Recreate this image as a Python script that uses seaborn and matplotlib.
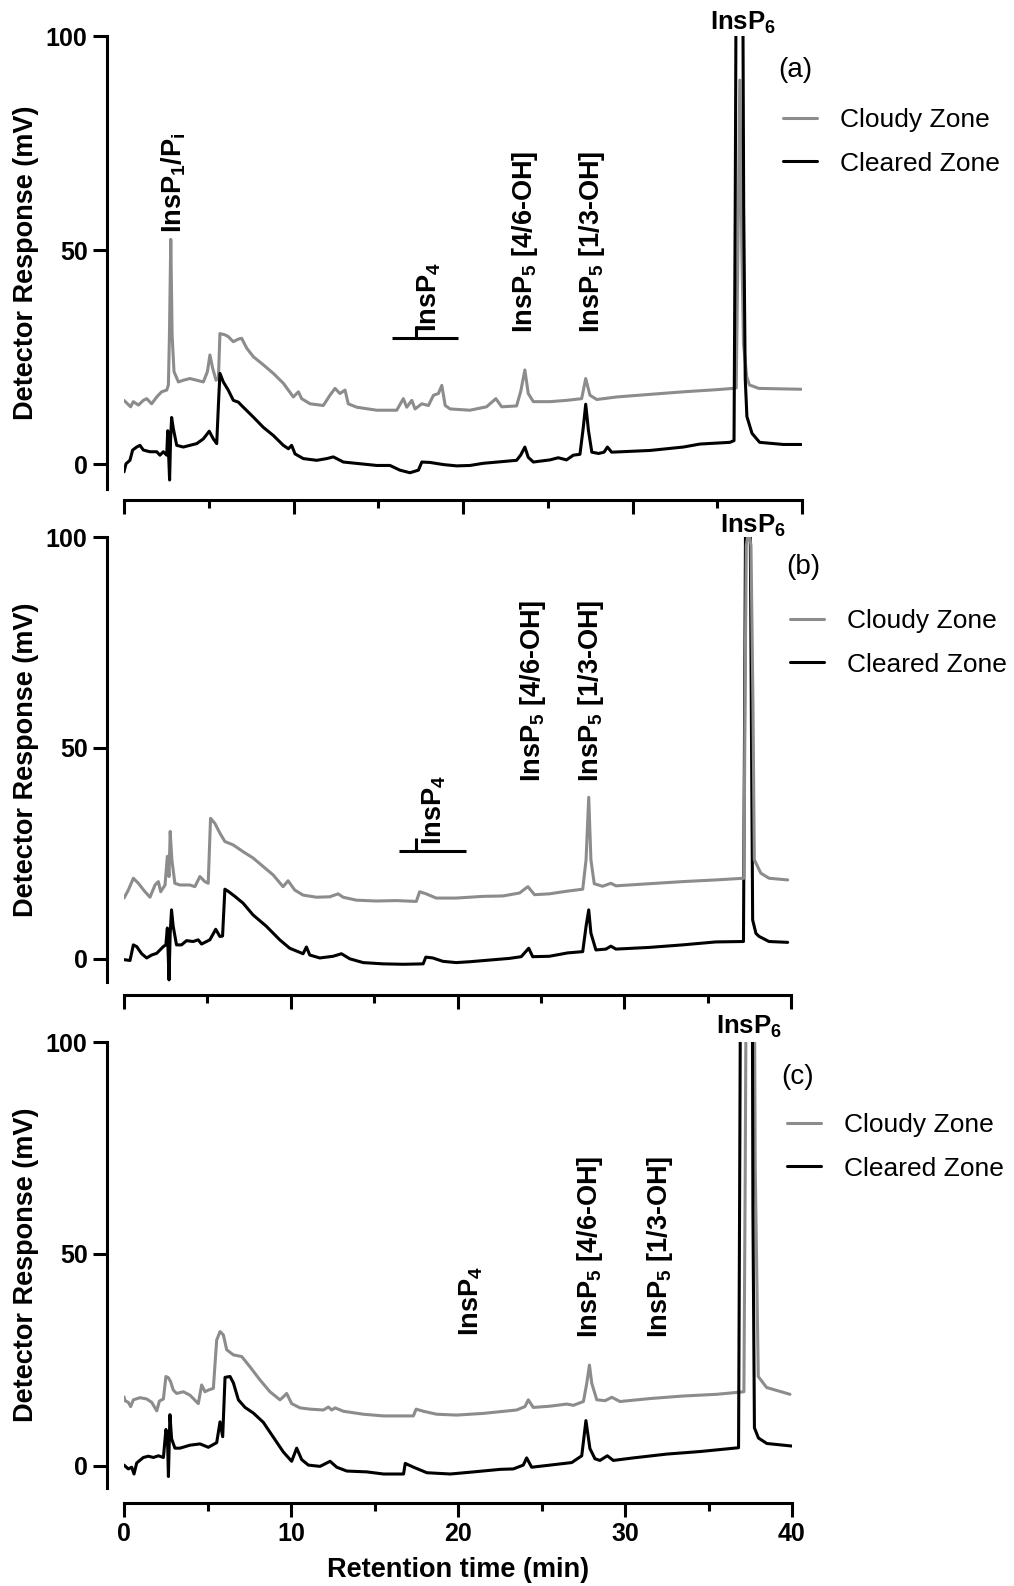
import numpy as np
import pandas as pd
import matplotlib
matplotlib.use("Agg")
import matplotlib.pyplot as plt
import seaborn as sns
from matplotlib.ticker import MultipleLocator, FixedLocator, NullLocator

# ---------------------------------------------------------------- data
ZONES = ["Cloudy Zone", "Cleared Zone"]

# (a) retention time (min) and detector response (mV)
a_cloudy_t = [0, 0.39, 0.55, 0.85, 1.14, 1.34, 1.63, 1.93, 2.22, 2.52, 2.62, 2.68, 2.76, 2.84, 2.95,
              3.21, 3.5, 3.89, 4.29, 4.68, 4.92, 5.07, 5.23, 5.43, 5.57, 5.66, 5.96, 6.15, 6.45,
              6.74, 6.94, 7.24, 7.63, 8.22, 8.81, 9.40, 9.99, 10.29, 10.48, 10.98, 11.76, 12.15,
              12.45, 12.74, 13.04, 13.23, 13.73, 14.91, 16.09, 16.48, 16.68, 16.98, 17.17, 17.57,
              17.96, 18.26, 18.55, 18.75, 18.95, 19.24, 20.41, 21.39, 21.94, 22.28, 23.16, 23.40,
              23.65, 23.85, 24.15, 25.13, 26.11, 27.0, 27.24, 27.49, 27.89, 29.07, 31.03, 33.0,
              34.97, 35.95, 36.12, 36.22, 36.33, 36.45, 36.55, 36.74, 36.9, 37.45, 38.6, 39.95]
a_cloudy = [14.9, 13.4, 14.6, 13.8, 14.9, 15.3, 14.1, 15.7, 16.9, 17.3, 18.5, 30.0, 52.5, 30.0, 21.6,
            19.2, 19.6, 20.0, 19.6, 19.2, 21.6, 25.5, 22.4, 19.6, 20.0, 30.5, 30.2, 29.8, 28.6,
            29.2, 29.4, 27.1, 25.1, 23.2, 21.2, 18.9, 15.7, 16.9, 15.3, 14.1, 13.7, 16.1,
            17.7, 16.5, 17.3, 14.1, 13.3, 12.6, 12.6, 15.3, 13.3, 14.9, 12.9, 14.1,
            13.7, 16.1, 16.5, 18.4, 13.7, 12.9, 12.6, 13.4, 15.3, 13.4, 13.6, 16.9,
            22.0, 16.5, 14.6, 14.6, 14.9, 15.3, 20.0, 16.1, 15.1, 15.7, 16.3, 16.9,
            17.4, 17.7, 17.8, 50.0, 89.7, 50.0, 28.0, 20.4, 18.5, 17.7, 17.6, 17.5]
a_cleared_t = [0, 0.12, 0.35, 0.51, 0.75, 0.94, 1.14, 1.53, 1.93, 2.12, 2.32, 2.52, 2.58, 2.69,
               2.75, 2.81, 2.91, 3.11, 3.5, 3.89, 4.29, 4.68, 5.03, 5.27, 5.47, 5.57, 5.66, 5.86,
               6.15, 6.45, 6.74, 7.04, 7.63, 8.22, 8.81, 9.40, 9.70, 9.89, 10.09, 10.58, 11.37,
               11.96, 12.35, 12.94, 13.92, 14.91, 15.69, 16.28, 16.87, 17.37, 17.57, 18.06, 18.85,
               19.63, 20.42, 21.19, 23.16, 23.4, 23.65, 23.85, 24.15, 25.13, 25.62, 26.11, 26.51,
               26.9, 27.1, 27.24, 27.4, 27.6, 28.0, 28.32, 28.52, 28.77, 31.03, 33.0, 33.98,
               35.75, 35.99, 36.06, 36.12, 36.3, 36.5, 36.56, 36.65, 36.75, 37.05, 37.5, 38.9, 39.95]
a_cleared = [-1.8, 0.1, 0.9, 3.3, 4.0, 4.4, 3.3, 2.9, 2.9, 2.1, 2.9, 2.1, 7.8, -3.7,
             6.0, 10.9, 8.3, 4.4, 4.0, 4.4, 4.8, 5.9, 7.7, 5.9, 4.8, 13.8, 21.2, 19.2,
             17.3, 14.9, 14.5, 13.3, 11.0, 8.6, 6.7, 4.4, 3.6, 4.4, 2.4, 1.3, 0.9,
             1.3, 1.7, 0.5, 0.1, -0.3, -0.3, -1.4, -2.0, -1.4, 0.5, 0.4, -0.1,
             -0.4, -0.3, 0.2, 0.9, 2.1, 4.0, 1.6, 0.5, 1.0, 1.5, 1.0, 2.1,
             2.3, 8.7, 14.0, 7.9, 2.8, 2.5, 2.8, 4.0, 2.8, 3.2, 4.0, 4.7,
             5.1, 5.5, 60.0, 120.0, 150.0, 120.0, 60.0, 20.0, 11.1, 7.2, 5.1, 4.6, 4.6]

# (b)
b_cloudy_t = [0, 0.26, 0.56, 0.86, 1.26, 1.56, 1.86, 2.06, 2.2, 2.46, 2.6, 2.7, 2.77, 2.87, 3.05,
              3.35, 3.95, 4.25, 4.55, 4.85, 5.05, 5.19, 5.45, 5.75, 6.05, 6.55, 7.14, 7.74, 8.34,
              8.94, 9.54, 9.84, 10.24, 10.74, 11.54, 12.34, 12.84, 13.14, 13.94, 15.13, 16.33,
              17.53, 17.73, 18.12, 18.72, 19.92, 20.72, 21.52, 22.72, 23.72, 24.22, 24.62, 25.51,
              26.51, 27.51, 27.71, 27.87, 28.0, 28.2, 28.7, 29.2, 29.5, 31.5, 33.5, 35.49, 37.18,
              37.24, 37.32, 37.45, 37.6, 37.72, 37.8, 38.19, 38.68, 39.8]
b_cloudy = [14.4, 16.3, 19.1, 17.9, 15.9, 14.6, 17.5, 18.3, 15.9, 17.5, 24.3, 19.5, 30.2, 23.5, 17.9,
            17.5, 17.5, 17.1, 19.5, 18.3, 17.9, 33.3, 32.1, 29.8, 27.8, 27.0, 25.4, 23.9, 21.9,
            19.9, 17.1, 18.5, 16.3, 15.1, 14.6, 14.7, 15.4, 14.6, 13.9, 13.7, 13.8,
            13.6, 15.9, 15.4, 14.4, 14.4, 14.6, 14.8, 14.9, 15.6, 17.1, 15.2, 15.4,
            16.0, 16.5, 23.5, 38.3, 23.5, 17.8, 17.2, 17.9, 17.3, 17.8, 18.3, 18.7, 19.1,
            60.0, 98.0, 101.5, 98.0, 60.0, 23.5, 20.3, 19.1, 18.7]
b_cleared_t = [0, 0.36, 0.56, 0.76, 1.06, 1.36, 1.66, 1.96, 2.16, 2.36, 2.51, 2.6, 2.7, 2.77, 2.85,
               2.95, 3.15, 3.45, 3.75, 4.15, 4.45, 4.65, 5.15, 5.5, 5.75, 5.91, 6.05, 6.25, 6.65,
               7.14, 7.74, 8.54, 9.34, 9.94, 10.74, 10.94, 11.14, 11.74, 12.54, 13.04, 13.54,
               14.34, 15.54, 16.74, 17.94, 18.1, 18.52, 19.12, 19.92, 20.72, 21.92, 23.12, 23.82,
               24.27, 24.51, 25.51, 26.61, 27.51, 27.71, 27.87, 28.0, 28.3, 28.9, 29.2, 29.5,
               31.5, 33.5, 35.49, 37.15, 37.22, 37.3, 37.5, 37.62, 37.7, 37.9, 38.09, 38.68, 39.8]
b_cleared = [-0.2, -0.4, 3.3, 2.9, 1.2, 0.2, 0.9, 1.3, 2.1, 2.9, 3.3, 7.3, -5.0, 6.0, 11.6,
             7.7, 3.3, 3.3, 4.3, 4.1, 4.5, 3.5, 4.5, 7.0, 5.3, 5.4, 16.5, 16.0, 14.8,
             13.2, 10.4, 7.7, 4.5, 2.5, 1.2, 2.8, 0.9, 0.2, 0.6, 1.2, 0.0,
             -0.9, -1.2, -1.3, -1.2, 0.4, 0.2, -0.6, -0.9, -0.7, -0.3, 0.1, 0.5,
             2.5, 0.5, 0.6, 1.4, 1.7, 7.7, 11.6, 6.1, 2.1, 2.3, 3.0, 2.3,
             2.7, 3.3, 4.0, 4.1, 60.0, 125.0, 140.0, 60.0, 9.2, 6.0, 5.3, 4.1, 3.9]

# (c)
c_cloudy_t = [0, 0.06, 0.26, 0.4, 0.56, 0.96, 1.36, 1.66, 1.96, 2.12, 2.36, 2.51, 2.66, 2.79, 2.95,
              3.15, 3.55, 3.95, 4.25, 4.45, 4.65, 4.85, 5.05, 5.35, 5.55, 5.75, 5.95, 6.15, 6.55,
              7.05, 7.54, 8.14, 8.74, 9.34, 9.54, 9.74, 10.04, 10.54, 11.14, 11.94, 12.24, 12.44,
              12.64, 13.14, 14.33, 15.53, 16.53, 17.33, 17.49, 17.93, 18.72, 19.92, 21.52, 23.51,
              24.01, 24.21, 24.51, 25.51, 26.51, 26.91, 27.51, 27.71, 27.87, 28.01, 28.31, 28.81,
              29.21, 29.7, 31.5, 33.49, 35.49, 37.12, 37.2, 37.26, 37.5, 37.74, 37.8, 37.98,
              38.48, 39.88]
c_cloudy = [16.3, 15.4, 15.0, 14.0, 15.6, 16.1, 15.8, 15.0, 13.0, 15.3, 15.8, 21.1, 20.8, 19.9, 17.9,
            17.1, 17.5, 16.7, 15.5, 14.7, 19.1, 17.5, 17.9, 18.3, 29.7, 31.7, 30.9, 27.4, 26.2,
            25.8, 23.4, 20.3, 17.5, 15.6, 16.3, 17.1, 14.7, 13.7, 13.4, 13.2, 13.9, 13.2,
            13.7, 12.9, 12.2, 11.8, 11.8, 11.8, 13.4, 12.9, 12.2, 12.0, 12.4, 13.2,
            14.0, 15.6, 13.8, 14.1, 14.6, 14.3, 15.2, 19.5, 23.8, 19.5, 15.6, 15.4,
            16.2, 15.2, 15.9, 16.5, 16.9, 17.5, 70.0, 120.0, 135.0, 120.0, 70.0, 21.1,
            18.5, 16.9]
c_cleared_t = [0, 0.26, 0.46, 0.6, 0.76, 1.16, 1.46, 1.76, 2.06, 2.36, 2.51, 2.6, 2.66, 2.75, 2.85,
               3.05, 3.35, 3.95, 4.55, 5.05, 5.55, 5.75, 5.91, 6.05, 6.35, 6.55, 6.85, 7.25, 7.74,
               8.34, 8.94, 9.54, 10.04, 10.34, 10.64, 11.04, 11.74, 12.34, 12.74, 13.34, 14.54,
               15.54, 16.74, 16.84, 17.34, 18.14, 19.54, 20.94, 22.54, 23.31, 23.91, 24.11, 24.41,
               25.51, 26.81, 27.41, 27.66, 27.9, 28.2, 28.5, 28.94, 29.3, 30.5, 32.5, 34.49,
               36.8, 36.86, 36.92, 37.25, 37.62, 37.66, 37.75, 37.99, 38.49, 39.98]
c_cleared = [0.2, -0.7, -0.3, -1.9, 0.7, 2.0, 2.3, 2.0, 2.4, 2.0, 8.6, 6.9, -2.5, 12.1, 6.4,
             4.2, 4.2, 4.9, 5.2, 4.4, 5.5, 10.4, 6.9, 20.9, 21.1, 19.6, 15.6, 13.8, 12.5,
             10.3, 6.8, 3.3, 1.1, 4.2, 1.5, 0.2, -0.1, 1.1, -0.3, -1.2, -1.4,
             -1.9, -1.9, 0.6, -0.3, -1.6, -1.9, -1.4, -0.8, -0.7, 0.2, 1.9, -0.3,
             0.2, 0.8, 2.4, 10.7, 4.1, 1.7, 1.3, 2.4, 1.3, 1.9, 2.8, 3.4,
             4.3, 60.0, 120.0, 135.0, 120.0, 60.0, 9.0, 6.6, 5.3, 4.7]

# peak annotations: (label, time, response at label foot)
a_peaks = [(r"InsP$_{1}$/P$_{i}$", 2.95, 54.0), (r"InsP$_{4}$", 18.0, 30.8),
           (r"InsP$_{5}$ [4/6-OH]", 23.66, 30.6), (r"InsP$_{5}$ [1/3-OH]", 27.6, 30.6)]
b_peaks = [(r"InsP$_{4}$", 18.6, 27.0), (r"InsP$_{5}$ [4/6-OH]", 24.5, 41.9),
           (r"InsP$_{5}$ [1/3-OH]", 28.0, 41.9)]
c_peaks = [(r"InsP$_{4}$", 20.8, 30.7), (r"InsP$_{5}$ [4/6-OH]", 27.9, 30.2),
           (r"InsP$_{5}$ [1/3-OH]", 32.1, 30.2)]
insp6_pos = [(36.5, 101.4), (37.7, 101.0), (37.4, 101.9)]
# InsP4 elution window bar: (start, end, level, marker time, marker top)
a_window = (15.8, 19.7, 29.4, 17.2, 32.2)
b_window = (16.5, 20.5, 25.6, 17.5, 28.7)
panel_tags = ["(a)", "(b)", "(c)"]

# ---------------------------------------------------------------- style
sns.set_theme(style="ticks")
plt.rcParams["font.family"] = ["Liberation Sans", "DejaVu Sans"]
plt.rcParams["mathtext.fontset"] = "custom"
plt.rcParams["mathtext.rm"] = "Liberation Sans"
plt.rcParams["mathtext.bf"] = "Liberation Sans:bold"
plt.rcParams["mathtext.default"] = "bf"

GRAY = "#8c8c8c"
BLACK = "#000000"
LW = 2.2
TICK_FS = 18
PEAK_FS = 19.5
AXIS_FS = 19.5

W, H = 1014, 1586
fig = plt.figure(figsize=(W / 100, H / 100), dpi=100)
fig.patch.set_facecolor("white")

# axes boxes in pixels: left, right, top, bottom; y minimum; x-axis offset (pt)
panels = [
    dict(box=(124, 802, 36, 489), ymin=-5.8, xoff=7.9,
         cloudy=(a_cloudy_t, a_cloudy), cleared=(a_cleared_t, a_cleared),
         peaks=a_peaks, window=a_window, tag_xy=(795, 70), leg=(783, 108), gray_top=False),
    dict(box=(124, 791, 537, 982), ymin=-5.5, xoff=9.4,
         cloudy=(b_cloudy_t, b_cloudy), cleared=(b_cleared_t, b_cleared),
         peaks=b_peaks, window=b_window, tag_xy=(803, 567), leg=(790, 609), gray_top=True),
    dict(box=(124, 792, 1042, 1488), ymin=-5.2, xoff=10.5,
         cloudy=(c_cloudy_t, c_cloudy), cleared=(c_cleared_t, c_cleared),
         peaks=c_peaks, window=None, tag_xy=(798, 1077), leg=(787, 1113), gray_top=False),
]

for i, p in enumerate(panels):
    left, right, top, bottom = p["box"]
    wpx, hpx = right - left, bottom - top
    ax = fig.add_axes([left / W, 1 - bottom / H, wpx / W, hpx / H])
    ax.set_facecolor("none")

    df = pd.concat([
        pd.DataFrame({"t": p["cloudy"][0], "mV": p["cloudy"][1], "zone": ZONES[0]}),
        pd.DataFrame({"t": p["cleared"][0], "mV": p["cleared"][1], "zone": ZONES[1]}),
    ], ignore_index=True)
    sns.lineplot(data=df, x="t", y="mV", hue="zone", hue_order=ZONES,
                 palette=[GRAY, BLACK], estimator=None, sort=False,
                 linewidth=LW, ax=ax)
    if p["gray_top"]:
        ax.lines[0].set_zorder(3)

    ax.set_xlim(0, 40)
    ax.set_ylim(p["ymin"], 100)

    for side in ("top", "right"):
        ax.spines[side].set_visible(False)
    ax.spines["left"].set_position(("outward", 12.2))
    ax.spines["bottom"].set_position(("outward", p["xoff"]))
    for side in ("left", "bottom"):
        ax.spines[side].set_linewidth(LW)
        ax.spines[side].set_color("black")

    ax.yaxis.set_major_locator(FixedLocator([0, 50, 100]))
    ax.yaxis.set_minor_locator(NullLocator())
    ax.xaxis.set_major_locator(MultipleLocator(10))
    ax.xaxis.set_minor_locator(MultipleLocator(5))
    ax.tick_params(axis="both", which="major", direction="out", length=10, width=LW,
                   color="black", labelsize=TICK_FS, labelcolor="black")
    ax.tick_params(axis="x", which="minor", direction="out", length=6, width=LW, color="black")
    ax.tick_params(axis="y", which="major", pad=4.0)
    ax.tick_params(axis="x", which="major", pad=4.0)
    for lab in ax.get_yticklabels() + ax.get_xticklabels():
        lab.set_fontweight("bold")

    ax.set_ylabel("Detector Response (mV)", fontsize=AXIS_FS, fontweight="bold", color="black")
    ax.yaxis.set_label_coords((39 - left) / wpx, 0.5)
    if i < 2:
        ax.tick_params(axis="x", labelbottom=False)
        ax.set_xlabel("")
    else:
        ax.set_xlabel("Retention time (min)", fontsize=AXIS_FS, fontweight="bold", color="black")
        ax.xaxis.set_label_coords(0.5, -0.155)

    # peak labels
    for text, t, v in p["peaks"]:
        ax.text(t, v, text, rotation=90, ha="center", va="bottom", fontsize=PEAK_FS,
                fontweight="bold", color="black", clip_on=False)
    t6, v6 = insp6_pos[i]
    ax.text(t6, v6, r"InsP$_{6}$", ha="center", va="baseline", fontsize=18.5,
            fontweight="bold", color="black", clip_on=False)

    if p["window"] is not None:
        x0, x1, lvl, xm, ym = p["window"]
        ax.plot([x0, x1], [lvl, lvl], color="black", lw=LW, solid_capstyle="butt")
        ax.plot([xm, xm], [lvl, ym], color="black", lw=LW, solid_capstyle="butt")

    tx, ty = p["tag_xy"]
    ax.text((tx - left) / wpx, (bottom - ty) / hpx, panel_tags[i], transform=ax.transAxes,
            ha="center", va="center", fontsize=20, color="black")

    lx, ly = p["leg"]
    sns.move_legend(ax, "upper left", bbox_to_anchor=((lx - left) / wpx, (bottom - ly) / hpx),
                    frameon=False, title=None, fontsize=19, handlelength=1.3,
                    handletextpad=0.85, labelspacing=0.74, borderpad=0, borderaxespad=0)
    for txt in ax.get_legend().get_texts():
        txt.set_color("black")

fig.savefig("out.png", dpi=100, facecolor="white")
